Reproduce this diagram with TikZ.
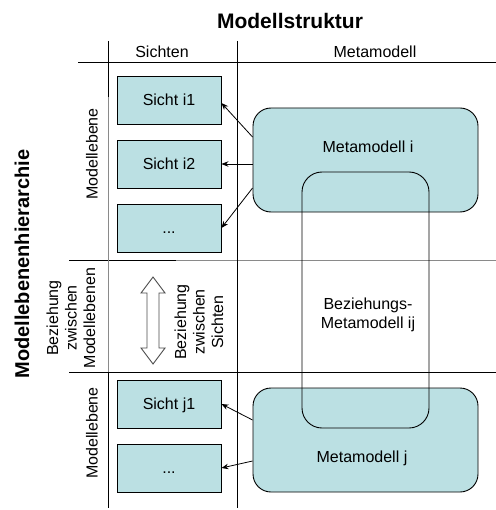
\documentclass[tikz,border=0pt]{standalone}
\usepackage{fontspec}
\setmainfont{Liberation Sans}
\usetikzlibrary{arrows.meta,calc}
\definecolor{boxfill}{HTML}{BBE0E3}
\definecolor{softgray}{HTML}{8A8A8A}
\begin{document}
\begin{tikzpicture}[x=1bp,y=-1bp,
  font=\fontsize{16bp}{18.5bp}\selectfont,
  gridline/.style={line width=0.9bp},
  sbox/.style={draw, line width=0.9bp, fill=boxfill, minimum width=104bp, minimum height=48bp, inner sep=0pt, text height=11.5bp, text depth=0bp},
  mbox/.style={draw, line width=0.9bp, fill=boxfill, rounded corners=18bp, minimum width=225bp, minimum height=104bp, inner sep=0pt},
  arr/.style={line width=0.8bp, -{Stealth[length=7bp,width=5.5bp]}},
  lbl/.style={inner sep=0pt, align=center},
  titlefont/.style={font=\fontsize{21bp}{24bp}\selectfont\bfseries},
  hierfont/.style={font=\fontsize{20bp}{24bp}\selectfont\bfseries},
]
\useasboundingbox (0,0) rectangle (496,510);

% grid
\draw[gridline] (78,62) -- (496,62);
\draw[gridline] (69,260) -- (176,260);
\draw[gridline, softgray] (176,260) -- (496,260);
\draw[gridline] (69,372) -- (496,372);
\draw[gridline] (108,41) -- (108,97);
\draw[gridline, softgray] (108,97) -- (108,372);
\draw[gridline] (108,372) -- (108,508);
\draw[gridline] (237,41) -- (237,508);

% titles and headers
\node[lbl, titlefont] (title) at (290,21) {Modellstruktur};
\node[lbl, hierfont, rotate=90] (hier) at (22,264) {Modellebenenhierarchie};
\node[lbl] (hsichten) at (162,52) {Sichten};
\node[lbl] (hmeta) at (375,52) {Metamodell};

\node[lbl, rotate=90] (me1) at (92,154) {Modellebene};
\node[lbl, rotate=90] (me2) at (92,433) {Modellebene};
\node[lbl, rotate=90] (bzm) at (71,318) {Beziehung\\zwischen\\Modellebenen};
\node[lbl, rotate=90] (bzs) at (199,322) {Beziehung\\zwischen\\Sichten};

% double arrow
\draw[line width=0.9bp, draw=black!70, fill=white]
  (153,277) -- (165,293) -- (159,293) -- (159,348) -- (165,348) -- (153,364)
  -- (141,348) -- (147,348) -- (147,293) -- (141,293) -- cycle;

% view boxes
\node[sbox] (si1) at (169,100) {Sicht i1};
\node[sbox] (si2) at (169,164) {Sicht i2};
\node[sbox] (si3) at (169,228) {...};
\node[sbox] (sj1) at (169,404) {Sicht j1};
\node[sbox] (sj2) at (169,468) {...};

% metamodels
\node[mbox] (mi) at (365.5,160) {};
\node[mbox] (mj) at (365.5,440) {};
\node[lbl] (mil) at (368,147) {Metamodell i};
\node[lbl] (mjl) at (362,458) {Metamodell j};

\node[draw, line width=0.9bp, rounded corners=20bp, minimum width=127bp, minimum height=256bp, inner sep=0pt] (bz) at (365.5,300) {};
\node[lbl] (bzl) at (368,315) {Beziehungs-\\Metamodell ij};

% arrows
\draw[arr] ([yshift=23bp]mi.west) -- ([yshift=-3bp]si1.east);
\draw[arr] (si2.east -| mi.west) -- (si2.east);
\draw[arr] ([yshift=-28bp]mi.west) -- (si3.east);
\draw[arr] ([yshift=20bp]mj.west) -- (sj1.east);
\draw[arr] ([yshift=-21bp]mj.west) -- (sj2.east);
\end{tikzpicture}
\end{document}
